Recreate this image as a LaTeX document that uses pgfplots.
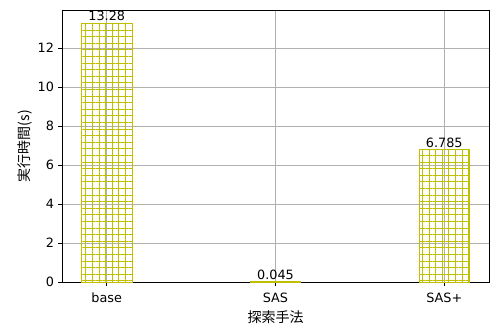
\documentclass[border=0pt]{standalone}
\usepackage{pgfplots}
\pgfplotsset{compat=1.18}
\usepackage{fontspec}
\setmainfont{DejaVu Sans}
\newfontfamily\cjk{Noto Sans CJK JP}
\usetikzlibrary{patterns.meta}
\definecolor{hatchc}{rgb}{0.75,0.75,0}
\definecolor{gridc}{rgb}{0.69,0.69,0.69}
\begin{document}
\begin{tikzpicture}[font=\fontsize{12.8bp}{15bp}\selectfont]
\begin{axis}[
  scale only axis,
  width=427bp, height=272bp,
  xmin=-0.265, xmax=2.265,
  ymin=0, ymax=13.944,
  xtick={0,1,2},
  xticklabels={base,SAS,SAS+},
  ytick={0,2,4,6,8,10,12},
  xtick pos=bottom, ytick pos=left,
  tick align=outside,
  major tick length=3.5bp,
  tick style={black, line width=0.8bp},
  axis line style={line width=0.8bp},
  grid=major,
  grid style={gridc, line width=0.8bp},
  xlabel={\cjk\fontsize{14bp}{16bp}\selectfont 探索手法},
  ylabel={\cjk\fontsize{14bp}{16bp}\selectfont 実行時間(s)},
  xticklabel style={yshift=-4bp},
  xlabel style={yshift=-1bp},
  ylabel style={yshift=-1bp},
  /pgf/number format/assume math mode=true,
  yticklabel style={/pgf/number format/fixed, xshift=-1bp},
  nodes near coords,
  point meta=explicit symbolic,
  nodes near coords style={font=\fontsize{12.8bp}{15bp}\selectfont, black, inner sep=1.5bp},
  clip=false,
]
\addplot[ybar, bar width=0.3, draw=hatchc, line width=0.8bp,
  pattern={Hatch[angle=0,distance=6.6bp,line width=0.8bp]}, pattern color=hatchc]
  table[meta=label] {
x y label
0 13.28 13.28
1 0.045 0.045
2 6.785 6.785
};
\end{axis}
\path (current axis.south west) ++(-62bp,-43bp) coordinate (bl);
\path (current axis.north east) ++(13bp,10bp) coordinate (tr);
\useasboundingbox (bl) rectangle (tr);
\end{tikzpicture}
\end{document}
